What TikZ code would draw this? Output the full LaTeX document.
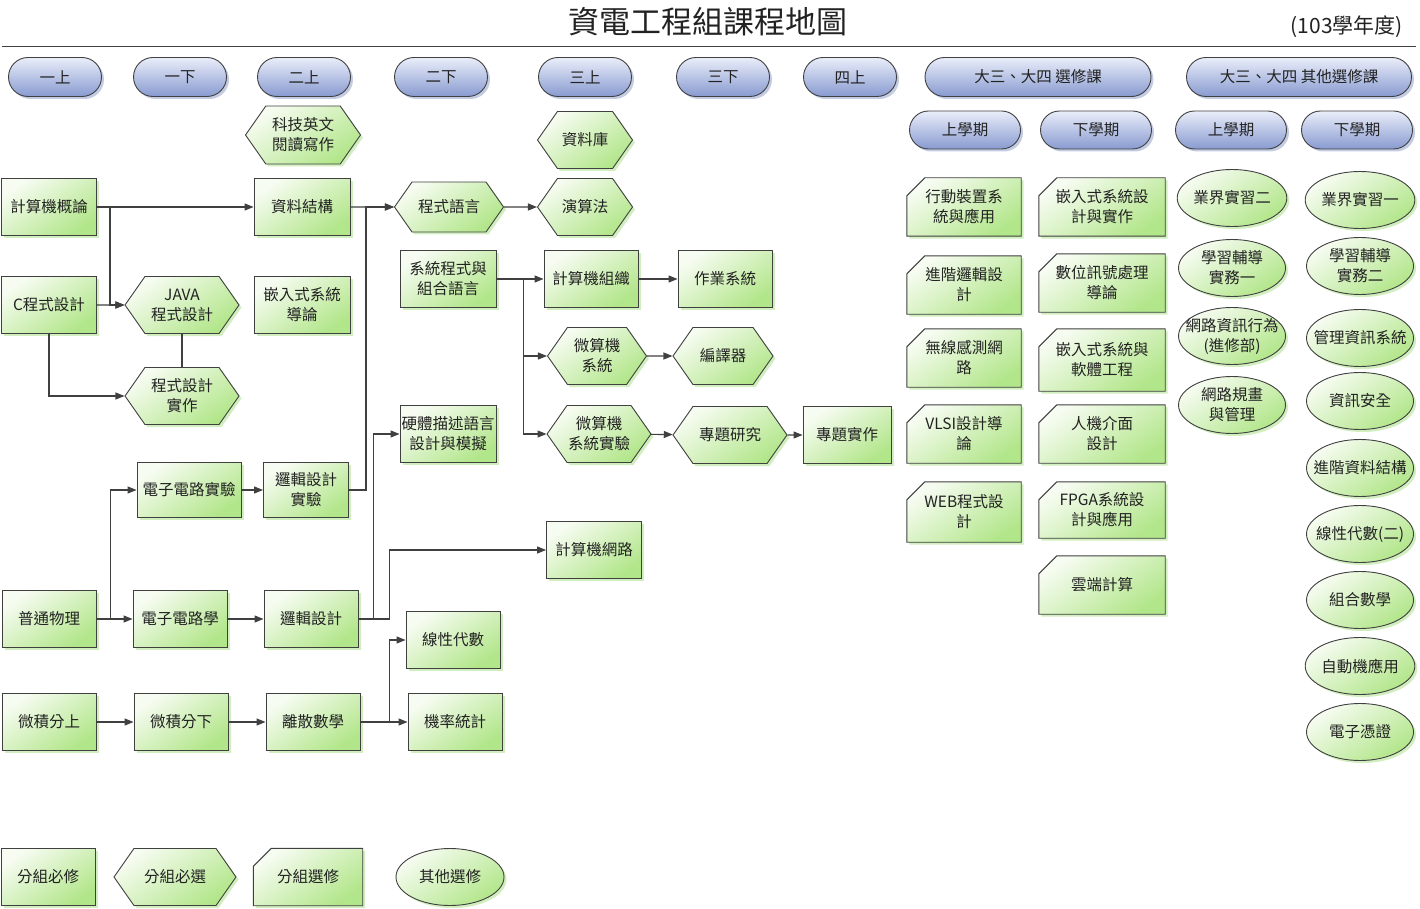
\documentclass[tikz,border=0pt]{standalone}
\usepackage{fontspec}
\setmainfont{Noto Sans CJK TC}
\usepackage{tikz}
\usetikzlibrary{shapes.geometric,shapes.misc,shapes.symbols,shadows,arrows.meta}

\definecolor{edge}{RGB}{64,64,64}
\definecolor{txt}{RGB}{34,34,34}
\definecolor{gtop}{RGB}{247,252,242}
\definecolor{gbot}{RGB}{178,230,138}
\definecolor{gsh}{RGB}{208,238,190}
\definecolor{btop}{RGB}{234,238,250}
\definecolor{bbot}{RGB}{136,154,208}
\definecolor{bsh}{RGB}{196,204,228}
\newcommand{\nowd}[1]{\makebox[0pt]{#1}}

\begin{document}
\begin{tikzpicture}[x=1pt,y=-1pt,>={Triangle[length=9pt,width=7pt]},
  every node/.style={font=\fontsize{15.5}{20}\selectfont, text=txt, align=center, inner sep=1pt},
  crs/.style={draw=edge, line width=0.9pt, top color=gtop, bottom color=gbot, shading angle=35,
    drop shadow={shadow xshift=2.5pt, shadow yshift=-2.5pt, fill=gsh, opacity=1}},
  bx/.style={crs, rectangle, minimum width=#1, minimum height=57pt}, bx/.default=94pt,
  hx/.style={crs, signal, signal to=east and west, signal pointer angle=110,
    minimum width=#1, minimum height=57pt}, hx/.default=100pt,
  ch/.style={rectangle, minimum width=#1, minimum height=58pt,
    append after command={\pgfextra{\path[crs] ([yshift=-18pt]\tikzlastnode.north west)
      -- ([xshift=18pt]\tikzlastnode.north west) -- (\tikzlastnode.north east)
      -- (\tikzlastnode.south east) -- (\tikzlastnode.south west) -- cycle;}}}, ch/.default=114pt,
  el/.style={crs, ellipse, inner sep=0pt, minimum width=107pt, minimum height=57pt},
  pill/.style={draw=edge, line width=0.9pt, rounded rectangle, top color=btop, bottom color=bbot,
    minimum width=#1, minimum height=39pt,
    drop shadow={shadow xshift=2.5pt, shadow yshift=-2.5pt, fill=bsh, opacity=1}}, pill/.default=95pt,
  link/.style={draw=edge, line width=1.1pt}]
\useasboundingbox (0,0) rectangle (1420,909);

% title
\node[font=\fontsize{31}{36}\selectfont] (title) at (708,22) {資電工程組課程地圖};
\node[font=\fontsize{21}{24}\selectfont, anchor=east] (year) at (1404,27) {(103學年度)};
\draw[edge, line width=1pt] (2,47) -- (1416,47);

% semesters
\node[pill] (y1) at (55,77) {一上};
\node[pill] (y2) at (180,77) {一下};
\node[pill] (e1) at (304,77) {二上};
\node[pill] (e2) at (441,77) {二下};
\node[pill] (s1) at (585,77) {三上};
\node[pill] (s2) at (723,77) {三下};
\node[pill] (f1) at (850,77) {四上};
\node[pill=228pt] (elechd) at (1038,77) {大三、大四 選修課};
\node[pill=227pt] (othhd) at (1299,77) {大三、大四 其他選修課};
\node[pill=113pt, minimum height=38pt] (eup) at (965,130) {上學期};
\node[pill=113pt, minimum height=38pt] (edn) at (1096,130) {下學期};
\node[pill=113pt, minimum height=38pt] (oup) at (1231,130) {上學期};
\node[pill=113pt, minimum height=38pt] (odn) at (1357,130) {下學期};

% required courses
\node[bx=95pt] (jsgl) at (49,207) {計算機概論};
\node[bx=95pt] (cprog) at (49,305) {C程式設計};
\node[bx] (ptwl) at (49,619) {普通物理};
\node[bx] (wjfs) at (49,722) {微積分上};
\node[hx=114pt] (java) at (182,305) {JAVA\\程式設計};
\node[hx=114pt] (sjsz) at (182,396) {程式設計\\實作};
\node[bx=104pt, minimum height=55pt] (dzsy) at (189,490) {電子電路實驗};
\node[bx] (dzdl) at (180,619) {電子電路學};
\node[bx] (wjfx) at (181,722) {微積分下};
\node[hx=115pt, minimum height=58pt] (kjyw) at (303,135) {科技英文\\閱讀寫作};
\node[bx=96pt] (zlgj) at (302,207) {資料結構};
\node[bx=96pt] (qrdl) at (302,305) {嵌入式系統\\導論};
\node[bx=85pt, minimum height=55pt] (ljsy) at (306,490) {邏輯設計\\實驗};
\node[bx] (ljsj) at (311,619) {邏輯設計};
\node[bx] (lssx) at (313,722) {離散數學};
\node[hx=109pt, minimum height=50pt] (cyyy) at (449,207) {程式語言};
\node[bx=96pt] (xtcs) at (448,279) {系統程式與\\組合語言};
\node[bx=96pt] (ytms) at (448,434) {硬體描述語言\\設計與模擬};
\node[bx] (xxds) at (453,640) {線性代數};
\node[bx] (jlts) at (455,722) {機率統計};
\node[hx=95pt] (zlk) at (585,140) {資料庫};
\node[hx=95pt] (ysf) at (585,207) {演算法};
\node[bx] (jszz) at (591,279) {計算機組織};
\node[hx=99pt] (wsj) at (597,356) {微算機\\系統};
\node[hx=102pt] (wsjsy) at (599,434) {微算機\\系統實驗};
\node[bx=95pt] (jswl) at (594,550) {計算機網路};
\node[bx] (czxt) at (725,279) {作業系統};
\node[hx=100pt] (byq) at (723,356) {編譯器};
\node[hx=114pt] (ztyj) at (730,435) {專題研究};
\node[bx=88pt] (ztsz) at (847,435) {專題實作};

% electives
\node[ch] (xdzz) at (964,207) {行動裝置系\\統與應用};
\node[ch] (jjlj) at (964,285) {進階邏輯設\\計};
\node[ch] (wxgc) at (964,358) {無線感測網\\路};
\node[ch] (vlsi) at (964,434) {VLSI設計導\\論};
\node[ch, minimum height=60pt] (web) at (964,512) {WEB程式設\\計};
\node[ch=126pt] (qrsj) at (1102,207) {嵌入式系統設\\計與實作};
\node[ch=126pt] (swxh) at (1102,283) {數位訊號處理\\導論};
\node[ch=126pt, minimum height=62pt] (qrrt) at (1102,360) {嵌入式系統與\\軟體工程};
\node[ch=126pt] (rjjm) at (1102,434) {人機介面\\設計};
\node[ch=126pt, minimum height=56pt] (fpga) at (1102,510) {FPGA系統設\\計與應用};
\node[ch=126pt] (ydjs) at (1102,585) {雲端計算};

% other electives
\node[el] (yjsx2) at (1232,198) {業界實習二};
\node[el] (xxfd1) at (1232,268) {學習輔導\\實務一};
\node[el] (wlzx) at (1232,336) {\nowd{網路資訊行為}\\(進修部)};
\node[el] (wlgh) at (1232,405) {網路規畫\\與管理};
\node[el] (yjsx1) at (1360,200) {業界實習一};
\node[el] (xxfd2) at (1360,266) {學習輔導\\實務二};
\node[el] (glzx) at (1360,338) {\nowd{管理資訊系統}};
\node[el] (zxaq) at (1360,401) {資訊安全};
\node[el] (jjzl) at (1360,468) {\nowd{進階資料結構}};
\node[el] (xxds2) at (1360,534) {\nowd{線性代數(二)}};
\node[el] (zhsx) at (1360,600) {組合數學};
\node[el] (zdj) at (1360,666) {自動機應用};
\node[el] (dzpz) at (1360,732) {電子憑證};

% legend
\node[bx] (lgbx) at (48,877) {分組必修};
\node[hx=122pt] (lghx) at (175,877) {分組必選};
\node[ch=109pt, minimum height=57pt] (lgch) at (308,877) {分組選修};
\node[el, minimum width=108pt] (lgel) at (450,877) {其他選修};

% prerequisites
\draw[link,->] (jsgl) -- (zlgj);
\draw[link,->] (jsgl.east) -- ++(13,0) |- (java.west);
\draw[link,->] (cprog) -- (java);
\draw[link,->] (cprog.south) |- (sjsz.west);
\draw[link] (java.south) -- (sjsz.north);
\draw[link,->] (zlgj) -- (cyyy);
\draw[link,->] (ljsy.east) -- ++(17,0) |- (cyyy.west);
\draw[link,->] (cyyy) -- (ysf);
\draw[link,->] (xtcs) -- (jszz);
\draw[link,->] (xtcs.east) -- ++(27,0) |- (wsj.west);
\draw[link,->] (xtcs.east) -- ++(27,0) |- (wsjsy.west);
\draw[link,->] (jszz) -- (czxt);
\draw[link,->] (wsj) -- (byq);
\draw[link,->] (wsjsy) -- (ztyj);
\draw[link,->] (ztyj) -- (ztsz);
\draw[link,->] (ptwl) -- (dzdl);
\draw[link,->] (ptwl.east) -- ++(14,0) |- (dzsy.west);
\draw[link,->] (dzsy) -- (ljsy);
\draw[link,->] (dzdl) -- (ljsj);
\draw[link,->] (ljsj.east) -- ++(15,0) |- (ytms.west);
\draw[link,->] (ljsj.east) -- ++(31,0) |- (jswl.west);
\draw[link,->] (wjfs) -- (wjfx);
\draw[link,->] (wjfx) -- (lssx);
\draw[link,->] (lssx) -- (jlts);
\draw[link,->] (lssx.east) -- ++(29,0) |- (xxds.west);
\end{tikzpicture}
\end{document}
